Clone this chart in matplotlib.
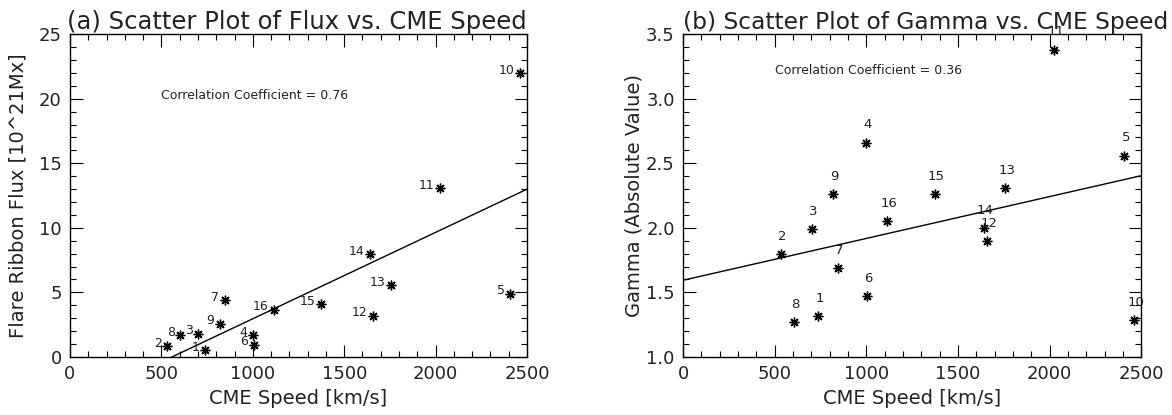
import numpy as np
import matplotlib
matplotlib.use("Agg")
import matplotlib.pyplot as plt
from matplotlib.ticker import MultipleLocator, FormatStrFormatter

# ── Data ─────────────────────────────────────────────────────────────────────
event_ids = ["1", "2", "3", "4", "5", "6", "7", "8",
             "9", "10", "11", "12", "13", "14", "15", "16"]
cme_speed = [738, 532, 703, 1000, 2408, 1005, 846, 604,
             820, 2462, 2025, 1660, 1758, 1641, 1374, 1114]
ribbon_flux = [0.52, 0.85, 1.81, 1.68, 4.91, 0.96, 4.39, 1.68,
               2.58, 22.0, 13.08, 3.20, 5.58, 7.96, 4.08, 3.67]
gamma_abs = [1.315, 1.80, 1.99, 2.66, 2.56, 1.47, 1.69, 1.27,
             2.26, 1.284, 3.38, 1.90, 2.31, 1.995, 2.26, 2.05]

# linear fits as drawn in the reference (intercept, slope)
fit_flux = [-3.73, 0.00669]
fit_gamma = [1.594, 0.000324]
corr_flux = "0.76"
corr_gamma = "0.36"

plt.rcParams["font.family"] = "DejaVu Sans"
plt.rcParams["axes.linewidth"] = 1.0

fig = plt.figure(figsize=(11.72, 4.15), dpi=100)
ax1 = fig.add_axes([0.0597, 0.1398, 0.390, 0.778])
ax2 = fig.add_axes([0.5828, 0.1398, 0.391, 0.778])

STAR = (8, 2, 0)
TXT = "#222222"


def style_axis(ax, ymaj, ymin):
    ax.xaxis.set_major_locator(MultipleLocator(500))
    ax.xaxis.set_minor_locator(MultipleLocator(100))
    ax.yaxis.set_major_locator(MultipleLocator(ymaj))
    ax.yaxis.set_minor_locator(MultipleLocator(ymin))
    ax.tick_params(which="both", direction="in", top=True, right=True,
                   labelsize=13, labelcolor=TXT)
    ax.tick_params(which="major", length=9, width=0.8, pad=6)
    ax.tick_params(which="minor", length=4.5, width=0.8)


xs = np.array([0, 2500])

# ── (a) Flux vs speed ─────────────────────────────────────────────────────────
ax1.plot(cme_speed, ribbon_flux, linestyle="none", marker=STAR,
         markersize=7, markeredgewidth=1.0, color="black")
ax1.plot(xs, fit_flux[0] + fit_flux[1] * xs, color="black", lw=1.0)
for lab, x, y in zip(event_ids, cme_speed, ribbon_flux):
    ax1.annotate(lab, (x, y), xytext=(-4, 2), textcoords="offset points",
                 ha="right", va="center", fontsize=9, color=TXT)
ax1.text(500, 20.25, f"Correlation Coefficient = {corr_flux}",
         fontsize=9, ha="left", va="center", color=TXT)
ax1.set_xlim(0, 2500)
ax1.set_ylim(0, 25)
style_axis(ax1, 5, 1)
ax1.set_title("(a) Scatter Plot of Flux vs. CME Speed", fontsize=17.5,
              color=TXT, pad=2, loc="left", x=-0.006)
ax1.set_xlabel("CME Speed [km/s]", fontsize=14, color=TXT, labelpad=4)
ax1.set_ylabel("Flare Ribbon Flux [10^21Mx]", fontsize=14, color=TXT,
               labelpad=8)

# ── (b) Gamma vs speed ────────────────────────────────────────────────────────
ax2.plot(cme_speed, gamma_abs, linestyle="none", marker=STAR,
         markersize=7, markeredgewidth=1.0, color="black")
ax2.plot(xs, fit_gamma[0] + fit_gamma[1] * xs, color="black", lw=1.0)
for lab, x, y in zip(event_ids, cme_speed, gamma_abs):
    ax2.annotate(lab, (x, y), xytext=(1, 8), textcoords="offset points",
                 ha="center", va="bottom", fontsize=9.5, color=TXT,
                 annotation_clip=False)
ax2.text(500, 3.22, f"Correlation Coefficient = {corr_gamma}",
         fontsize=9, ha="left", va="center", color=TXT)
ax2.set_xlim(0, 2500)
ax2.set_ylim(1.0, 3.5)
style_axis(ax2, 0.5, 0.1)
ax2.yaxis.set_major_formatter(FormatStrFormatter("%.1f"))
ax2.set_title("(b) Scatter Plot of Gamma vs. CME Speed", fontsize=16.8,
              color=TXT, pad=2, loc="left")
ax2.set_xlabel("CME Speed [km/s]", fontsize=14, color=TXT, labelpad=4)
ax2.set_ylabel("Gamma (Absolute Value)", fontsize=14, color=TXT,
               labelpad=2)

fig.savefig("out.png", dpi=100)
